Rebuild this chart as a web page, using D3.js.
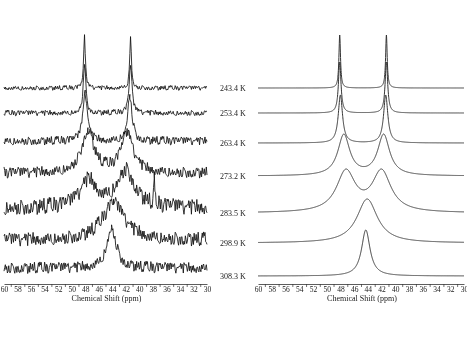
<!DOCTYPE html>
<html>
<head>
<meta charset="utf-8">
<script src="https://cdn.jsdelivr.net/npm/d3@7"></script>
<style>
  html, body { margin: 0; padding: 0; background: #fff; }
  svg { display: block; will-change: transform; }
  text { font-family: "Liberation Serif", "Times New Roman", serif; fill: #1a1a1a; }
</style>
</head>
<body>
<svg id="chart" width="467" height="339"></svg>
<script>
// Variable-temperature spectra: measured (left) and simulated (right)
const temperatures = ["243.4 K", "253.4 K", "263.4 K", "273.2 K", "283.5 K", "298.9 K", "308.3 K"];

// Tick values along the chemical-shift axis (ppm)
const tickValues = d3.range(30, 61, 1);
const tickLabelValues = d3.range(30, 61, 2);

// Simulated spectra: line centres (ppm), full widths (ppm), relative amplitudes,
// peak height and stacking offset (intensity units)
const simCenters = [[48.1, 41.3], [48.1, 41.3], [48.0, 41.4], [47.5, 41.7], [47.2, 42.0], [44.1], [44.3]];
const simWidths  = [[0.28, 0.28], [0.45, 0.45], [0.75, 0.75], [2.1, 2.1], [3.3, 3.3], [3.6], [1.5]];
const simAmps    = [[1, 1], [1, 1], [1, 1], [1, 1], [1, 1], [1], [1]];
const simHeights = [5.3, 5.1, 4.8, 4.2, 4.4, 4.4, 4.6];
const simOffsets = [18.8, 16.3, 13.3, 10.0, 6.3, 3.3, 0];

// Measured spectra: same description plus noise level of each trace
const expCenters = [[48.1, 41.3], [48.1, 41.3], [48.0, 41.4], [47.6, 41.8], [47.5, 42.0], [43.8], [44.1]];
const expWidths  = [[0.3, 0.3], [0.45, 0.5], [0.8, 0.8], [2.2, 2.2], [3.0, 3.2], [4.0], [1.7]];
const expAmps    = [[1, 1], [1, 0.95], [1, 0.95], [1, 0.93], [0.72, 1], [1], [1]];
const expHeights = [5.2, 5.0, 4.8, 4.3, 3.9, 3.7, 4.0];
const expOffsets = [18.0, 15.5, 12.7, 9.5, 6.0, 2.8, 0];
const expNoiseLevel = [0.25, 0.3, 0.45, 0.6, 0.85, 0.75, 0.6];
// Isolated spike in the 283.5 K trace
const expSpikes = [{ trace: 4, ppm: 37.8, height: 2.2 }];

// Recorded baseline noise sequence (normalised)
const noise = [0.42,-0.31,0.77,-0.58,0.12,-0.9,0.35,0.61,-0.22,-0.74,0.5,0.08,-0.46,0.93,-0.15,-0.63,0.28,0.55,-0.81,0.19,
  -0.37,0.71,-0.05,-0.52,0.86,-0.28,0.4,-0.69,0.14,0.58,-0.95,0.33,-0.11,0.67,-0.43,0.24,-0.78,0.49,0.02,-0.6,
  0.81,-0.34,0.17,-0.87,0.63,-0.2,0.38,-0.49,0.9,-0.07,-0.71,0.26,0.54,-0.39,-0.83,0.45,0.1,-0.57,0.74,-0.25,
  0.31,-0.66,0.97,-0.18,-0.44,0.6,-0.02,-0.76,0.36,0.21,-0.92,0.52,-0.3,0.69,-0.13,-0.55,0.83,-0.41,0.07,-0.64,
  0.47,0.29,-0.85,0.15,0.66,-0.36,-0.09,0.72,-0.5,0.23,-0.79,0.56,-0.16,0.39,-0.62,0.88,-0.27,-0.47,0.11,0.64,
  -0.73,0.3,-0.04,0.53,-0.89,0.2,0.44,-0.33,0.79,-0.6,0.06,-0.42,0.68,-0.19,-0.8,0.37,0.13,-0.54,0.92,-0.23,
  0.48,-0.7,0.03,0.59,-0.38,-0.12,0.75,-0.65,0.27,-0.84,0.41,0.09,-0.48,0.7,-0.29,0.18,-0.93,0.51,-0.06,0.62,
  -0.4,0.25,-0.77,0.34,0.85,-0.53,-0.14,0.46,-0.67,0.22,0.57,-0.88,0.32,-0.21,0.73,-0.45,0.01,-0.59];

const svg = d3.select("#chart");

const panels = [
  { x0: 4, x1: 207, yRange: [268, 8], centers: expCenters, widths: expWidths, amps: expAmps,
    heights: expHeights, offsets: expOffsets, noisy: true, stroke: "#111", sw: 0.85 },
  { x0: 258, x1: 464, yRange: [276, 16], centers: simCenters, widths: simWidths, amps: simAmps,
    heights: simHeights, offsets: simOffsets, noisy: false, stroke: "#333", sw: 1 }
];

function lorentz(p, c, w) {
  const t = (p - c) / (w / 2);
  return 1 / (1 + t * t);
}

panels.forEach(panel => {
  const x = d3.scaleLinear().domain([60, 30]).range([panel.x0, panel.x1]);
  const y = d3.scaleLinear().domain([0, 26]).range(panel.yRange);
  const g = svg.append("g");

  temperatures.forEach((t, k) => {
    const cs = panel.centers[k], ws = panel.widths[k], as = panel.amps[k];
    const step = panel.noisy ? 0.1 : 0.02;
    let grid = d3.range(30, 60.0001, step);
    grid = grid.concat(cs);
    if (panel.noisy) expSpikes.filter(s => s.trace === k).forEach(s => grid.push(s.ppm));
    grid.sort((a, b) => a - b);

    const shape = grid.map(p => d3.sum(cs, (c, j) => as[j] * lorentz(p, c, ws[j])));
    const maxV = d3.max(shape);
    const pts = grid.map((p, i) => {
      let v = shape[i] / maxV * panel.heights[k];
      if (panel.noisy) {
        v += expNoiseLevel[k] * noise[(i * 7 + k * 37) % noise.length];
        expSpikes.filter(s => s.trace === k).forEach(s => { v += s.height * lorentz(p, s.ppm, 0.15); });
      }
      return { ppm: p, v };
    });

    const line = d3.line().x(d => x(d.ppm)).y(d => y(panel.offsets[k] + d.v));
    g.append("path")
      .datum(pts)
      .attr("d", line)
      .attr("fill", "none")
      .attr("stroke", panel.stroke)
      .attr("stroke-width", panel.sw)
      .attr("stroke-linejoin", "round");
  });

  // Axis: line with small ticks at odd ppm values, labels at even values
  const axisY = 284;
  const axis = d3.axisBottom(x)
    .tickValues(tickValues)
    .tickSizeInner(3)
    .tickSizeOuter(0)
    .tickFormat(d => (tickLabelValues.includes(d) ? d : ""));
  const ag = g.append("g").attr("transform", `translate(0,${axisY})`).call(axis);
  ag.select(".domain").attr("stroke", "#333").attr("stroke-width", 0.8);
  ag.selectAll(".tick line")
    .attr("stroke", "#333")
    .attr("stroke-width", 0.7)
    .attr("y2", d => (tickLabelValues.includes(d) ? 0 : 3));
  ag.selectAll(".tick text")
    .attr("y", 8)
    .attr("dy", 0)
    .style("font-family", '"Liberation Serif", serif')
    .style("font-size", "7.5px")
    .attr("fill", "#1a1a1a");

  g.append("text")
    .attr("x", (panel.x0 + panel.x1) / 2 + 1)
    .attr("y", 301)
    .attr("text-anchor", "middle")
    .style("font-size", "8px")
    .text("Chemical Shift (ppm)");
});

// Temperature labels, placed at the simulated baselines
const yLab = d3.scaleLinear().domain([0, 26]).range([276, 16]);
svg.append("g").selectAll("text")
  .data(temperatures)
  .join("text")
  .attr("x", 220)
  .attr("y", (d, i) => yLab(simOffsets[i]) + 3)
  .style("font-size", "8px")
  .text(d => d);
</script>
</body>
</html>
